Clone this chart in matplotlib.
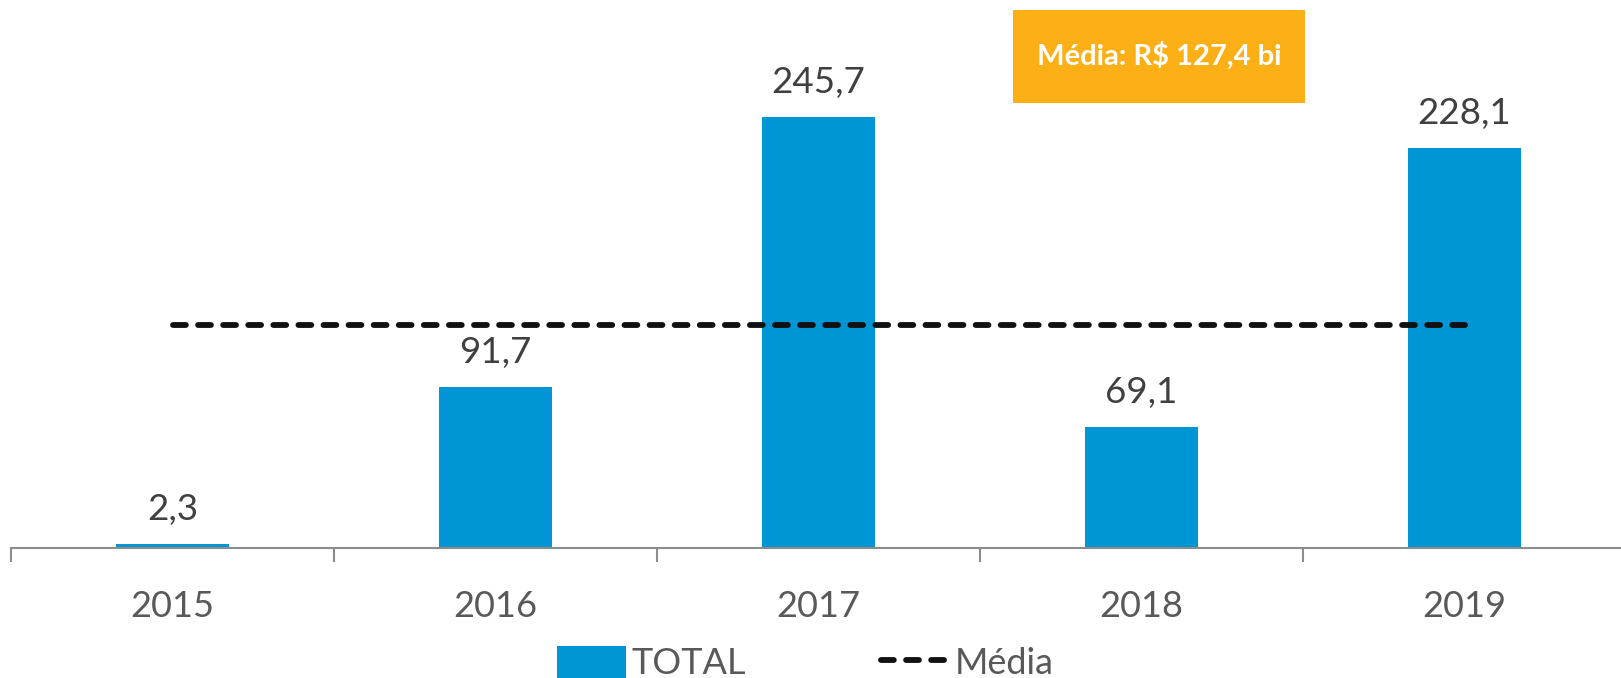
import numpy as np
import matplotlib.pyplot as plt
from matplotlib.patches import Rectangle

# dados
anos = ["2015", "2016", "2017", "2018", "2019"]
total = [2.3, 91.7, 245.7, 69.1, 228.1]
media = 127.4
rotulos = ["2,3", "91,7", "245,7", "69,1", "228,1"]

plt.rcParams['font.family'] = ['Lato', 'DejaVu Sans']

fig = plt.figure(figsize=(16.21, 6.78), dpi=100)
ax = fig.add_axes([11 / 1621, 130 / 678, 1615 / 1621, 548 / 678])

x = np.arange(len(anos))
ax.bar(x, total, width=0.35, color="#0096D6", label="TOTAL", zorder=2)
linha, = ax.plot(x, [media] * len(x), color="#111111", lw=4.2, ls="--",
                 dash_capstyle="round", label="Média", zorder=3)
linha.set_dashes((2.2, 2.1))

for xi, v, r in zip(x, total, rotulos):
    ax.annotate(r, (xi, v), xytext=(0, 13), textcoords="offset points",
                ha="center", va="bottom", fontsize=26.5, color="#404040")

ax.set_xlim(-0.5, 4.5)
ax.set_ylim(0, 312.4)

for s in ["top", "right", "left"]:
    ax.spines[s].set_visible(False)
ax.spines["bottom"].set_color("#8c8c8c")
ax.spines["bottom"].set_linewidth(1.5)
ax.set_yticks([])

ax.set_xticks(np.arange(-0.5, 5, 1))
ax.set_xticklabels([])
ax.tick_params(axis="x", which="major", length=10, width=1.5, color="#8c8c8c", direction="out")
ax.set_xticks(x, minor=True)
ax.set_xticklabels(anos, minor=True)
ax.tick_params(axis="x", which="minor", length=0, pad=30, labelsize=26, labelcolor="#595959")

# caixa da média
fig.patches.append(Rectangle((1013 / 1621, (678 - 103) / 678), 292 / 1621, 93 / 678,
                             transform=fig.transFigure, facecolor="#FDB016",
                             edgecolor="none"))
fig.text(1159 / 1621, (678 - 56) / 678, "Média: R$ 127,4 bi", ha="center", va="center",
         fontsize=21, fontweight="bold", color="white")

fig.legend(handles=[ax.patches[0], linha], labels=["TOTAL", "Média"],
           loc="center", bbox_to_anchor=(0.497, 0.022), ncol=2, frameon=False,
           fontsize=26, labelcolor="#595959", handlelength=1.9, handleheight=1.0,
           handletextpad=0.15, columnspacing=3.75)

fig.savefig("out.png", dpi=100)
